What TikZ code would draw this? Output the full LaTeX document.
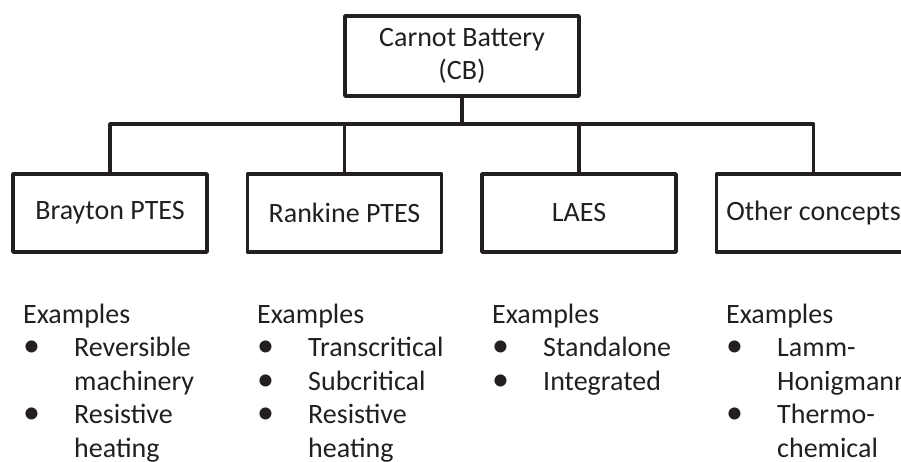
\documentclass[tikz,border=0pt]{standalone}
\usepackage{fontspec}
\setmainfont{Carlito}
\definecolor{ink}{RGB}{35,31,32}
\begin{document}
\begin{tikzpicture}[x=1pt,y=-1pt,
  every node/.style={text=ink, font=\fontsize{28}{33.6}\selectfont},
  box/.style={draw=ink, line width=3.5pt, line join=round, minimum height=78pt, minimum width=194pt, inner sep=0pt},
  conn/.style={draw=ink, line width=3.5pt, line join=round},
  examples/.style={anchor=base west, inner sep=0pt, align=left}]
\useasboundingbox (0,0) rectangle (901,461);
\clip (0,0) rectangle (901,461);

% root of the tree
\node[box, minimum width=234pt, minimum height=80pt, align=center] (cb) at (462,56) {Carnot Battery\\(CB)};

% the four families of concepts
\node[box] (b1) at (110,213) {Brayton PTES};
\node[box] (b2) at (344.5,213) {Rankine PTES};
\node[box] (b3) at (579,213) {LAES};
\node[box] (b4) at (813.5,213) {Other concepts};

% branching connectors
\coordinate (j) at (462,124);
\draw[conn] (cb.south) -- (j);
\draw[conn] (b1.north) |- (j) -| (b4.north);
\draw[conn] (b2.north) -- (b2.north |- j);
\draw[conn] (b3.north) -- (b3.north |- j);

% example lists below each family
\newcommand{\exlist}[1]{\begin{tabular}[t]{@{}p{51pt}@{}l@{}}\multicolumn{2}{@{}l@{}}{Examples}\\#1\end{tabular}}
\newcommand{\dotitem}{{\fontsize{34}{33.6}\selectfont\textbullet}}
\node[examples] (e1) at (23,323) {\exlist{\dotitem & Reversible\\ & machinery\\ \dotitem & Resistive\\ & heating}};
\node[examples] (e2) at (257,323) {\exlist{\dotitem & Transcritical\\ \dotitem & Subcritical\\ \dotitem & Resistive\\ & heating}};
\node[examples] (e3) at (492,323) {\exlist{\dotitem & Standalone\\ \dotitem & Integrated}};
\node[examples] (e4) at (726,323) {\exlist{\dotitem & Lamm-\\ & Honigmann\\ \dotitem & Thermo-\\ & chemical}};
\end{tikzpicture}
\end{document}
